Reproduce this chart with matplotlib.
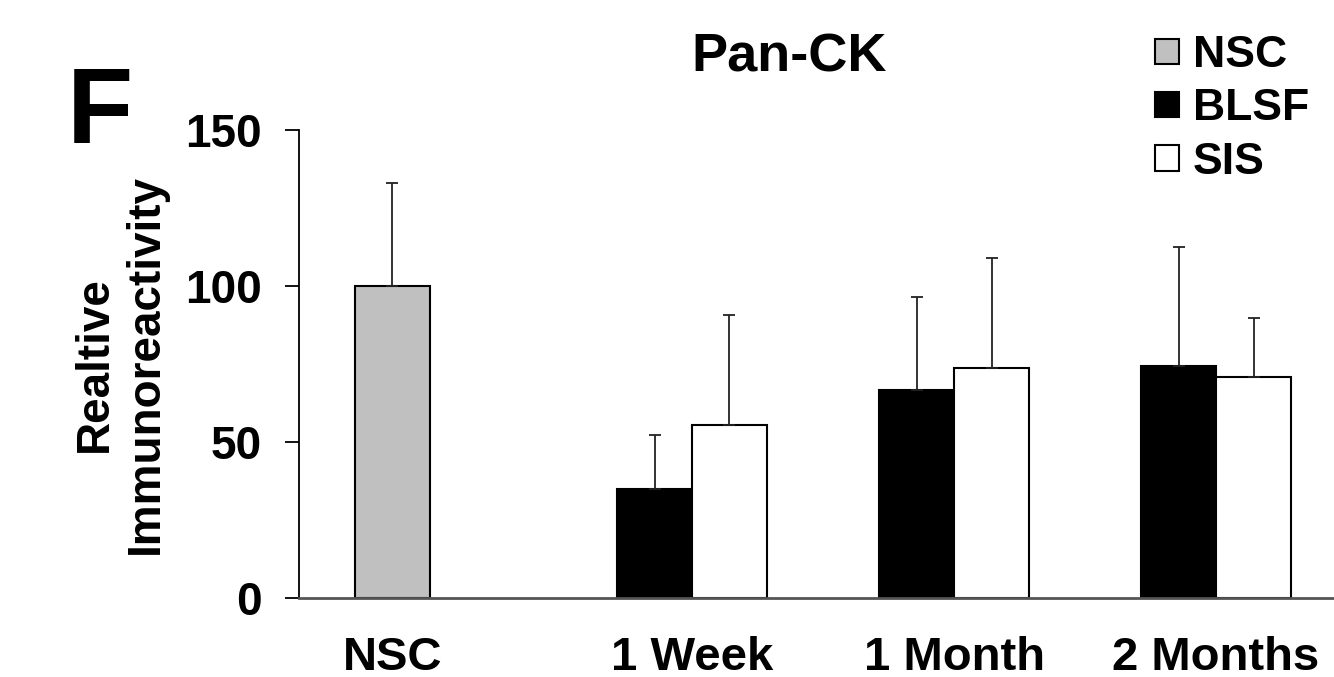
import matplotlib
matplotlib.use("Agg")
import matplotlib.pyplot as plt
import numpy as np

plt.rcParams['font.family'] = ['Liberation Sans', 'DejaVu Sans']
plt.rcParams['font.weight'] = 'bold'

groups = ["NSC", "1 Week", "1 Month", "2 Months"]
series = ["NSC", "BLSF", "SIS"]
nsc_val = [100.0]
nsc_err = [33.0]
blsf_val = [34.8, 66.7, 74.4]
blsf_err = [17.5, 29.8, 38.0]
sis_val = [55.3, 73.7, 70.8]
sis_err = [35.4, 35.3, 19.0]
yticks = [0, 50, 100, 150]

fig = plt.figure(figsize=(13.34, 6.77), dpi=100)
ax = fig.add_axes([0.2241, 1 - 598/677, 1 - 0.2241, (598 - 130)/677])

w = 0.286
x = np.arange(len(groups))
ekw = dict(elinewidth=1.3, ecolor='#222222', capthick=1.3)
ax.bar(x[:1] - w/2, nsc_val, w, color='#c0c0c0', edgecolor='black', linewidth=1.5,
       yerr=[[0], nsc_err], capsize=4.5, error_kw=ekw, label=series[0], zorder=2)
ax.bar(x[1:] - w/2, blsf_val, w, color='black', edgecolor='black', linewidth=1.5,
       yerr=[[0]*3, blsf_err], capsize=4.5, error_kw=ekw, label=series[1], zorder=2)
ax.bar(x[1:] + w/2, sis_val, w, color='white', edgecolor='black', linewidth=1.5,
       yerr=[[0]*3, sis_err], capsize=4.5, error_kw=ekw, label=series[2], zorder=2)

ax.set_xlim(-0.5, 3.45)
ax.set_ylim(0, 150)
ax.set_yticks(yticks)
ax.set_yticklabels([str(t) for t in yticks], fontsize=33, fontweight='bold')
ax.tick_params(axis='y', direction='out', length=10, width=1.3, pad=17)
ax.set_xticks([x[0] - w/2] + list(x[1:]))
ax.set_xticklabels(groups, fontsize=34, fontweight='bold')
ax.tick_params(axis='x', length=0, pad=27)
for s in ['top', 'right']:
    ax.spines[s].set_visible(False)
ax.spines['left'].set_linewidth(1.3)
ax.spines['bottom'].set_linewidth(2)
ax.spines['bottom'].set_color('#555555')

ax.set_ylabel("Realtive\nImmunoreactivity", fontsize=33, fontweight='bold', labelpad=12,
              linespacing=1.2)

fig.text(789/1334, 1 - 72/677, "Pan-CK", fontsize=39, fontweight='bold', ha='center', va='baseline')
fig.text(67/1334, 1 - 143/677, "F", fontsize=78, fontweight='bold', ha='left', va='baseline')

leg = fig.legend(loc='upper right', bbox_to_anchor=(1309/1334, 1 - 35/677), frameon=False,
                 handlelength=0.55, handleheight=0.5, handletextpad=0.3, labelspacing=0.28,
                 borderpad=0, borderaxespad=0, prop={'weight': 'bold', 'size': 32})

fig.savefig("out.png", dpi=100)
